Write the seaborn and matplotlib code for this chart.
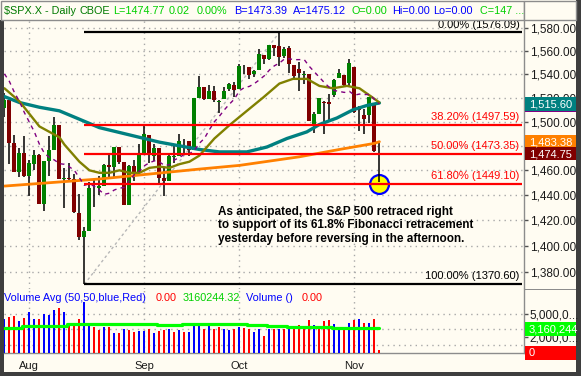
import matplotlib
matplotlib.use("Agg")
import matplotlib.pyplot as plt
import matplotlib.transforms as mtrans
from matplotlib.patches import Rectangle
from matplotlib.ticker import FixedLocator, NullLocator, NullFormatter
import numpy as np
import pandas as pd
import seaborn as sns

# ---------------- data ----------------
opens = [1511.0,1518.1,1482.4,1458.9,1473.9,1455.2,1465.5,1472.2,1433.0,1467.6,
         1476.2,1497.2,1453.1,1453.4,1452.9,1426.2,1406.6,1411.3,1445.9,1445.6,
         1447.0,1464.1,1462.3,1479.4,1466.7,1432.0,1463.7,1457.6,1474.0,1488.8,
         1472.0,1478.6,1453.5,1451.7,1471.1,1471.5,1484.0,1484.2,1476.6,1519.8,
         1528.7,1518.8,1525.8,1516.3,1518.6,1527.3,1531.2,1527.3,1546.96,1545.8,
         1539.9,1543.8,1556.5,1553.2,1565.2,1564.7,1555.4,1562.3,1547.8,1544.4,
         1539.3,1540.0,1497.2,1506.3,1516.6,1516.2,1522.2,1536.9,1539.4,1532.2,
         1545.8,1511.1,1505.6,1505.3,1515.5,1475.3]
highs = [1524.3,1518.1,1488.5,1477.9,1488.3,1468.4,1476.4,1473.2,1467.7,1488.3,
         1503.9,1497.2,1462.0,1466.3,1456.7,1440.8,1415.0,1450.3,1451.8,1455.3,
         1464.9,1472.1,1479.4,1479.4,1466.7,1464.2,1468.4,1481.5,1496.4,1488.8,
         1481.5,1478.6,1462.0,1472.5,1479.5,1489.6,1485.9,1484.2,1519.9,1538.7,
         1529.1,1530.9,1530.2,1518.3,1529.4,1532.5,1533.7,1549.0,1548.0,1546.3,
         1544.0,1561.9,1556.5,1565.3,1565.4,1576.1,1563.0,1564.7,1547.8,1550.7,
         1542.8,1540.0,1508.1,1520.0,1517.2,1523.2,1535.5,1544.7,1539.4,1552.8,
         1545.8,1513.2,1510.8,1520.8,1515.5,1482.5]
lows = [1503.7,1465.3,1458.9,1454.3,1454.3,1439.6,1460.6,1432.8,1427.4,1455.8,
        1476.2,1453.1,1429.7,1451.5,1425.5,1404.4,1370.6,1411.3,1430.5,1439.8,
        1447.0,1453.5,1455.0,1465.0,1432.0,1432.0,1451.3,1457.6,1472.2,1466.3,
        1467.4,1449.1,1439.3,1451.7,1465.8,1471.5,1473.2,1471.8,1476.6,1519.8,
        1518.4,1518.8,1516.2,1507.1,1518.6,1525.8,1521.0,1527.3,1540.4,1536.3,
        1537.6,1543.8,1549.0,1551.8,1555.5,1546.7,1554.1,1540.8,1536.3,1526.0,
        1531.8,1500.3,1490.4,1506.3,1489.6,1500.5,1520.5,1536.9,1529.6,1529.4,
        1506.8,1492.5,1490.0,1499.1,1475.0,1450.3]
closes = [1518.1,1482.7,1458.9,1473.9,1455.3,1465.8,1472.2,1433.1,1467.7,1476.7,
          1497.5,1453.1,1453.6,1452.9,1426.5,1406.7,1411.3,1445.9,1445.6,1447.1,
          1464.1,1462.5,1479.4,1466.8,1432.4,1463.8,1457.6,1474.0,1489.4,1472.3,
          1478.6,1453.6,1451.7,1471.5,1471.6,1484.0,1484.3,1476.7,1519.8,1529.0,
          1518.8,1525.8,1517.7,1517.2,1525.4,1531.4,1526.8,1547.0,1546.6,1539.6,
          1542.8,1557.6,1552.6,1565.2,1562.5,1554.4,1561.8,1548.7,1538.5,1541.2,
          1540.1,1500.6,1506.3,1519.6,1515.9,1514.4,1535.3,1541.0,1531.0,1549.4,
          1508.4,1509.7,1502.2,1520.3,1475.6,1474.8]

# 10-bar average (purple dashed)
ma_purple = [1540.3,1533.8,1524.5,1516.9,1507.5,1499.5,1491.4,1481.3,1473.9,1470.4,
             1468.4,1465.4,1464.9,1462.8,1459.9,1454.0,1447.9,1449.2,1447.0,1444.0,
             1440.7,1441.6,1444.2,1445.6,1446.2,1451.9,1456.5,1459.3,1463.7,1466.2,
             1467.7,1466.8,1464.0,1464.5,1468.4,1470.4,1473.1,1473.4,1476.4,1482.1,
             1486.1,1493.3,1499.9,1504.5,1509.9,1514.6,1518.9,1525.9,1528.6,1529.6,
             1532.0,1535.2,1538.7,1543.5,1547.2,1549.5,1553.0,1553.2,1552.4,1552.5,
             1552.3,1546.6,1541.9,1537.4,1532.7,1528.7,1526.1,1525.3,1524.5,1525.4,
             1522.2,1523.1,1522.7,1522.8,1518.7,1514.8]
# olive average, read at these bars
olive_bar = [0, 3, 7, 11, 12, 15, 17, 19, 21, 23, 25, 27, 29, 31, 33, 35, 37, 39,
             42, 45, 48.5, 51.7, 55, 57.7, 60.5, 63, 65.7, 68.5, 71, 73.7, 75]
olive_val = [1528, 1517, 1496, 1487, 1481, 1467, 1460, 1458, 1458, 1460, 1458, 1458,
             1462, 1463, 1462, 1465, 1467, 1472, 1486, 1497, 1509, 1520, 1532, 1536,
             1536, 1530, 1528, 1530, 1528, 1520, 1516]
# teal average, read at these bars
teal_bar = [0, 3, 7, 11, 15, 19, 23, 27, 31, 35, 39, 43, 48.5, 52.5, 56.5, 60.5, 63,
            66.5, 69.7, 72.5, 75]
teal_val = [1521, 1516, 1512, 1509, 1502, 1495, 1491, 1487, 1483, 1480, 1477, 1475,
            1475, 1479, 1486, 1491.5, 1497.6, 1503, 1509.8, 1513.5, 1515.6]
# orange average, read at these bars
orange_bar = [0, 19, 39, 47, 59, 67, 74, 75]
orange_val = [1447.3, 1453, 1461, 1464, 1471, 1477, 1482, 1483.38]

# volume (millions), colour per bar (b = blue, r = red)
volume = [4.3,4.6,4.8,4.1,4.5,5.3,4.3,4.4,5.0,4.9,5.5,5.8,5.3,3.8,3.8,4.3,6.5,3.55,3.3,2.9,
          3.3,3.3,2.6,2.5,3.1,2.9,2.7,2.8,2.8,3.0,2.5,2.8,2.9,3.0,2.7,2.9,2.7,2.7,3.8,3.8,
          3.1,3.7,3.1,3.3,3.1,2.9,3.0,3.3,3.2,3.1,2.7,3.0,2.1,3.0,3.0,3.0,3.0,3.2,3.2,3.6,
          3.3,4.2,3.6,3.5,4.1,4.2,3.7,3.2,3.2,3.9,4.2,4.4,3.8,3.9,4.3,0.3]
vol_side = "brrbrbbrbbbrbrrrbbrrbrbrbrrbbrbrrbrbrbbbrbrrbbrbrrbbrbrbrbrrrrbrrrbbrbrbrbrr"
vol_avg = [3.23]*4 + [3.40]*4 + [3.50]*5 + [3.65]*4 + [3.72]*14 + [3.62]*5 + \
          [3.72]*13 + [3.62]*4 + [3.46]*4 + [3.37]*4 + [3.30]*5 + [3.16]*10

fib_levels = [1576.09, 1497.59, 1473.35, 1449.10, 1370.60]
fib_labels = ["0.00% (1576.09)", "38.20% (1497.59)", "50.00% (1473.35)",
              "61.80% (1449.10)", "100.00% (1370.60)"]
fib_start_bar = 16      # bar of the swing low
fib_high_bar = 55       # bar of the swing high
touch_bar = 75          # bar that touched the 61.8% level

price_ticks = [1380, 1400, 1420, 1440, 1460, 1480, 1500, 1520, 1540, 1560, 1580]
hidden_ticks = [1480]   # covered by the value boxes in the reference
month_bars = [5, 28, 47, 70]
month_labels = ["Aug", "Sep", "Oct", "Nov"]
week_bars = [3, 8, 13, 18, 23, 32, 37, 42, 52, 57, 62, 67, 72]

last_values = {"teal": 1515.60, "orange": 1483.38, "last": 1474.75}

note = ("As anticipated, the S&P 500 retraced right\n"
        "to support of its 61.8% Fibonacci retracement\n"
        "yesterday before reversing in the afternoon.")

# ---------------- figure ----------------
sns.set_style("white")
plt.rcParams['font.family'] = ['Liberation Sans', 'DejaVu Sans']

W, H = 581, 376
fig = plt.figure(figsize=(W / 100, H / 100), dpi=100)
fig.patch.set_facecolor('#3E3E3E')
BG = '#FFFCF2'
GRID = '#A8A8A8'
FRAME = '#8C8C8C'


def fbox(x0, y0, x1, y1):
    return [x0 / W, 1 - y1 / H, (x1 - x0) / W, (y1 - y0) / H]


def frect(x0, y0, x1, y1, **kw):
    r = Rectangle((x0 / W, 1 - y1 / H), (x1 - x0) / W, (y1 - y0) / H,
                  transform=fig.transFigure, **kw)
    fig.add_artist(r)
    return r


def ftext(x, y, s, **kw):
    return fig.text(x / W, 1 - y / H, s, **kw)


frect(4, 0, 576, 372, facecolor=BG, edgecolor='none', zorder=-10)
frect(0, 0, 4, 20, facecolor=BG, edgecolor='none', zorder=-10)
# title bar
frect(0.5, 0.5, 524, 19.5, facecolor=BG, edgecolor=FRAME, lw=1, zorder=1)
frect(524, 0.5, 575.5, 19.5, facecolor=BG, edgecolor=FRAME, lw=1, zorder=1)

title_parts = [
    (4, "$SPX.X - Daily", '#007A00'), (80, "CBOE", '#007A00'),
    (113, "L=1474.77", '#00D000'), (169, "0.02", '#00D000'), (197, "0.00%", '#00D000'),
    (234, "B=1473.39", '#0000FF'), (292.5, "A=1475.12", '#0000FF'),
    (351, "O=0.00", '#00D000'), (392.5, "Hi=0.00", '#0000FF'),
    (433, "Lo=0.00", '#0000FF'), (479.5, "C=147 ...", '#00D000')]
for x, s, c in title_parts:
    ftext(x, 10.5, s, color=c, fontsize=7.8, va='center', ha='left', zorder=2)

bars = np.arange(len(closes))
XMIN, XMAX = -0.08, 103.92
PLO, PHI = 1366.96, 1587.0

# ---------------- price panel ----------------
ax = fig.add_axes(fbox(4, 20, 524, 289))
ax.set_facecolor(BG)
ax.set_yscale('log')
ax.set_xlim(XMIN, XMAX)
ax.set_ylim(PLO, PHI)
for s in ['left', 'top', 'bottom']:
    ax.spines[s].set_visible(False)
ax.spines['right'].set_color(FRAME)
ax.spines['right'].set_linewidth(1)
ax.yaxis.tick_right()
ax.set_yticks(price_ticks, labels=["" if v in hidden_ticks else f"{v:,.2f}"
                                   for v in price_ticks])
ax.yaxis.set_minor_locator(NullLocator())
ax.yaxis.set_minor_formatter(NullFormatter())
ax.set_xticks([])
ax.tick_params(axis='y', which='major', direction='out', length=3, width=1,
               color='#505050', labelsize=8.5, labelcolor='#1A1A1A', pad=1)
for v in price_ticks:
    ax.axhline(v, color=GRID, lw=1, ls=(0, (1, 3)), zorder=0.5)
for b in month_bars:
    ax.axvline(b, color=GRID, lw=1, ls=(0, (1, 3)), zorder=0.5)

# Fibonacci trend line (dotted grey diagonal)
ax.plot([fib_start_bar, fib_high_bar], [fib_levels[-1], fib_levels[0]],
        color='#B8B8B8', lw=1, ls=(0, (2, 2)), zorder=1)

# highlight circle
ax.scatter([touch_bar], [fib_levels[3]], s=185, facecolor='#FFFF00',
           edgecolor='#0000FF', linewidth=1.6, zorder=2)

# candles
o = np.array(opens); h = np.array(highs); l = np.array(lows); c = np.array(closes)
ax.vlines(bars, l, h, colors='black', lw=1.1, zorder=3)
up = c >= o
ax.bar(bars[up], (c - o)[up], bottom=o[up], width=0.8, color='#008000', lw=0, zorder=4)
ax.bar(bars[~up], np.maximum((o - c)[~up], 0.4), bottom=c[~up], width=0.8,
       color='#800000', lw=0, zorder=4)

# moving averages
sns.lineplot(x=orange_bar, y=orange_val, ax=ax, color='#FF8000', lw=2.0, zorder=5)
sns.lineplot(x=teal_bar, y=teal_val, ax=ax, color='#008080', lw=2.4, zorder=5)
sns.lineplot(x=olive_bar, y=olive_val, ax=ax, color='#808000', lw=1.7, zorder=5)
sns.lineplot(x=bars, y=ma_purple, ax=ax, color='#800080', lw=1.0,
             linestyle=(0, (3, 3)), zorder=5)
ax.set_xlim(XMIN, XMAX)
ax.set_ylim(PLO, PHI)
ax.set_xlabel(''); ax.set_ylabel('')

# Fibonacci levels
fib_end = 103.46
blend = mtrans.blended_transform_factory(ax.transAxes, ax.transData)
for lev, lab in zip(fib_levels, fib_labels):
    col = 'black' if lab.startswith(('0.00', '100')) else '#FF0000'
    ax.hlines(lev, fib_start_bar, fib_end, colors=col, lw=1.6, zorder=6)
    ax.annotate(lab, xy=(0.9913, lev), xycoords=blend, xytext=(0, 3.4),
                textcoords='offset points', ha='right', va='baseline',
                color=col, fontsize=8, zorder=7)

ftext(218, 206, note, fontsize=8.5, fontweight='bold', color='black',
      ha='left', va='top', linespacing=1.14, zorder=8)


def ypix(v):
    return H - ax.transData.transform((0, v))[1]


def valbox(yc, color, text, hh=13.5):
    frect(525, yc - hh / 2, 576, yc + hh / 2, facecolor=color, edgecolor='none', zorder=5)
    ftext(529, yc + 0.5, text, color='white', fontsize=8, va='center', ha='left', zorder=6)


yt = ypix(last_values["teal"]) + 1
valbox(yt, '#008080', f"{last_values['teal']:,.2f}")
frect(525, yt + 6.75, 576, yt + 8, facecolor='#800080', edgecolor='none', zorder=6)
yo = ypix(last_values["orange"])
valbox(yo, '#FF8000', f"{last_values['orange']:,.2f}")
valbox(yo + 12, '#800000', f"{last_values['last']:,.2f}")

# separator on the right column
frect(524, 288.5, 576, 289.5, facecolor=FRAME, edgecolor='none', zorder=4)

# ---------------- volume panel ----------------
axv = fig.add_axes(fbox(4, 289, 524, 353))
axv.set_facecolor(BG)
axv.set_xlim(XMIN, XMAX)
axv.set_ylim(-0.04, 8.23)
for s in ['left', 'top']:
    axv.spines[s].set_visible(False)
for s in ['right', 'bottom']:
    axv.spines[s].set_color(FRAME)
    axv.spines[s].set_linewidth(1)
for v in [1, 3, 5]:
    axv.axhline(v, color=GRID, lw=1, ls=(0, (1, 3)), zorder=0.5)
for b in month_bars:
    axv.axvline(b, color=GRID, lw=1, ls=(0, (1, 3)), zorder=0.5)
vcols = ['#0000FF' if s == 'b' else '#FF0000' for s in vol_side]
axv.bar(bars, volume, width=0.42, color=vcols, lw=0, zorder=3)
sns.lineplot(x=bars, y=vol_avg, ax=axv, color='#00FF00', lw=2.3,
             drawstyle='steps-mid', zorder=4)
axv.set_xlim(XMIN, XMAX)
axv.set_ylim(-0.04, 8.23)
axv.set_xlabel(''); axv.set_ylabel('')
axv.yaxis.tick_right()
axv.set_yticks([5, 2], labels=["5,000,0...", "2,000,0..."])
axv.tick_params(axis='y', direction='out', length=3, width=1, color='#505050',
                labelsize=8.5, labelcolor='#1A1A1A', pad=1)
axv.set_xticks(month_bars, labels=month_labels)
axv.set_xticks(week_bars, minor=True)
axv.tick_params(axis='x', which='major', direction='out', length=4.5, width=1,
                color=FRAME, labelsize=8, labelcolor='#1A1A1A', pad=1.5)
axv.tick_params(axis='x', which='minor', direction='out', length=2.2, width=1,
                color=FRAME)

vol_head = [(4, "Volume Avg (50,50,blue,Red)", '#0000FF'), (155.5, "0.00", '#FF0000'),
            (182.5, "3160244.32", '#00D000'), (246, "Volume ()", '#0000FF'),
            (302, "0.00", '#FF0000')]
for x, s, col in vol_head:
    ftext(x, 298, s, color=col, fontsize=7.8, va='center', ha='left', zorder=6)

frect(525, 322, 576, 336, facecolor='#00FF00', edgecolor='none', zorder=5)
ftext(529, 329.5, "3,160,244", color='white', fontsize=8, va='center', ha='left', zorder=6)
frect(525, 346, 576, 360, facecolor='#FF0000', edgecolor='none', zorder=5)
ftext(529, 353.5, "0", color='white', fontsize=8, va='center', ha='left', zorder=6)

fig.savefig("out.png", dpi=100, facecolor=fig.get_facecolor())
